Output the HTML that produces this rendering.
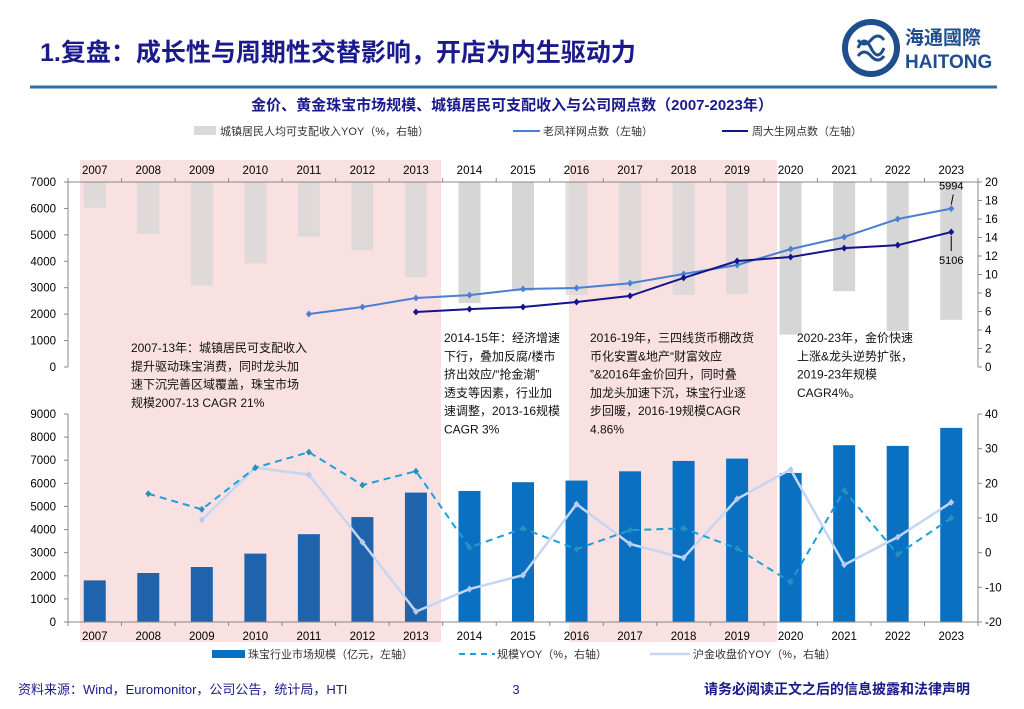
<!DOCTYPE html>
<html><head><meta charset="utf-8">
<style>
html,body{margin:0;padding:0;background:#fff;}
svg{display:block;font-family:"Liberation Sans","Noto Sans CJK SC",sans-serif;}
</style></head>
<body>
<svg id="s" width="1024" height="709" viewBox="0 0 1024 709" xmlns="http://www.w3.org/2000/svg">
<text x="40" y="61" font-size="25" font-weight="bold" fill="#1a1a8c">1.复盘：成长性与周期性交替影响，开店为内生驱动力</text>
<g>
<circle cx="871" cy="48" r="26" fill="none" stroke="#1f4e8c" stroke-width="6"/>
<path d="M858 48 q6 -14 13 0 t13 0 M858 40 q6 8 13 0 t13 0 M858 56 q6 -8 13 0 t13 0" fill="none" stroke="#1f4e8c" stroke-width="3"/>
<text x="905" y="44" font-size="19" font-weight="bold" fill="#1f4e8c">海通國際</text>
<text x="905" y="68" font-size="19" font-weight="bold" fill="#1f4e8c">HAITONG</text>
</g>
<line x1="30" y1="87" x2="997" y2="87" stroke="#2e6fa8" stroke-width="3"/>
<text x="512" y="110" font-size="15" font-weight="bold" fill="#1a1a8c" text-anchor="middle">金价、黄金珠宝市场规模、城镇居民可支配收入与公司网点数（2007-2023年）</text>
<g id="g"></g>
<text x="18" y="694" font-size="13" fill="#1a1a8c">资料来源：Wind，Euromonitor，公司公告，统计局，HTI</text>
<text x="516" y="694" font-size="13" fill="#1a1a8c" text-anchor="middle">3</text>
<text x="970" y="694" font-size="14" font-weight="bold" fill="#1a1a8c" text-anchor="end">请务必阅读正文之后的信息披露和法律声明</text>
</svg>
<script>
const years=["2007","2008","2009","2010","2011","2012","2013","2014","2015","2016","2017","2018","2019","2020","2021","2022","2023"];
const incomeYoy=[17.2,14.4,8.8,11.2,14.1,12.6,9.7,6.9,8.2,7.8,8.3,7.8,7.9,3.5,8.2,3.9,5.1];
const laofengxiang=[null,null,null,null,2005,2270,2610,2720,2950,2990,3170,3520,3860,4460,4920,5600,5994];
const zhoudasheng=[null,null,null,null,null,null,2080,2190,2270,2460,2690,3370,4010,4160,4500,4610,5106];
const marketSize=[1800,2120,2380,2960,3800,4540,5600,5670,6050,6120,6520,6970,7070,6450,7650,7620,8400];
const sizeYoy=[null,17,12.5,24.5,29,19.5,23.5,1.5,7,1,6.5,7,1.2,-8.5,18,-0.5,10];
const goldYoy=[null,null,9.5,24.5,22.5,3,-17,-10.5,-6.5,14,2.5,-1.5,15.5,24,-3.5,4.5,14.5];
const topLeftTicks=[0,1000,2000,3000,4000,5000,6000,7000];
const topRightTicks=[0,2,4,6,8,10,12,14,16,18,20];
const botLeftTicks=[0,1000,2000,3000,4000,5000,6000,7000,8000,9000];
const botRightTicks=[-20,-10,0,10,20,30,40];

const NS="http://www.w3.org/2000/svg";
const G=document.getElementById('g');
function mk(t,a,p){const e=document.createElementNS(NS,t);for(const k in a)e.setAttribute(k,a[k]);(p||G).appendChild(e);return e;}
const X0=68,X1=978,n=years.length,bw=(X1-X0)/n;
const xc=i=>X0+bw*(i+0.5);
const tT=182,tB=367,bT=414,bB=622;
const yTL=v=>tB-(v/7000)*(tB-tT);
const yTR=v=>tB-(v/20)*(tB-tT);
const yBL=v=>bB-(v/9000)*(bB-bT);
const yBR=v=>bB-((v+20)/60)*(bB-bT);

// pink shaded periods
let r=mk('rect',{x:80,y:160,width:361,height:482,fill:'#f9e1e1'});


r=mk('rect',{x:569,y:160,width:208,height:482,fill:'#f9e1e1'});



// top legend
let e;
e=mk('rect',{x:194,y:126,width:22,height:9,fill:'#d9d9d9'});


e=mk('text',{x:220,y:135,'font-size':11,fill:'#333'});e.textContent='城镇居民人均可支配收入YOY（%，右轴）';


e=mk('line',{x1:513,y1:131,x2:540,y2:131,stroke:'#4a7fd4','stroke-width':2});


e=mk('text',{x:543,y:135,'font-size':11,fill:'#333'});e.textContent='老凤祥网点数（左轴）';


e=mk('line',{x1:722,y1:131,x2:748,y2:131,stroke:'#14148a','stroke-width':2});


e=mk('text',{x:752,y:135,'font-size':11,fill:'#333'});e.textContent='周大生网点数（左轴）';



// top chart gray bars (from top down to value)
incomeYoy.forEach((v,i)=>{
  const b=mk('rect',{x:xc(i)-11,y:tT,width:22,height:yTR(v)-tT,fill:'#d6d6d6','fill-opacity':(i<=6||(i>=9&&i<=12))?0.75:1});
  
  
});
// top axes
mk('line',{x1:X0,y1:tT,x2:X1,y2:tT,stroke:'#888'});
mk('line',{x1:X0,y1:tT,x2:X0,y2:tB,stroke:'#888'});
mk('line',{x1:X1,y1:tT,x2:X1,y2:tB,stroke:'#888'});
for(let i=0;i<=n;i++)mk('line',{x1:X0+bw*i,y1:tT,x2:X0+bw*i,y2:tT-4,stroke:'#888'});
years.forEach((y,i)=>{const t=mk('text',{x:xc(i),y:174,'font-size':11.5,'text-anchor':'middle',fill:'#000'});t.textContent=y;

});
topLeftTicks.forEach(v=>{mk('line',{x1:X0-4,y1:yTL(v),x2:X0,y2:yTL(v),stroke:'#888'});const t=mk('text',{x:56,y:yTL(v)+4,'font-size':11.5,'text-anchor':'end'});t.textContent=v;

});
topRightTicks.forEach(v=>{mk('line',{x1:X1,y1:yTR(v),x2:X1+4,y2:yTR(v),stroke:'#888'});const t=mk('text',{x:985,y:yTR(v)+4,'font-size':11.5});t.textContent=v;

});

function line(arr,yf,attrs,name,marker){
  const pts=[];arr.forEach((v,i)=>{if(v!==null)pts.push([xc(i),yf(v)]);});
  const p=mk('polyline',Object.assign({points:pts.map(p=>p.join(',')).join(' '),fill:'none'},attrs));
  
  
  pts.forEach(q=>{const c=mk('path',{d:`M${q[0]} ${q[1]-3.5}L${q[0]+3} ${q[1]}L${q[0]} ${q[1]+3.5}L${q[0]-3} ${q[1]}Z`,fill:marker});
  
  });
}
line(laofengxiang,yTL,{stroke:'#4a7fd4','stroke-width':2},'laofengxiang-line','#4a7fd4');
line(zhoudasheng,yTL,{stroke:'#14148a','stroke-width':2},'zhoudasheng-line','#14148a');
// end labels
const li=n-1;
mk('line',{x1:xc(li),y1:yTL(laofengxiang[li])-4,x2:xc(li)+2,y2:yTL(laofengxiang[li])-14,stroke:'#000'});
e=mk('text',{x:xc(li),y:yTL(laofengxiang[li])-19,'font-size':11,'text-anchor':'middle'});e.textContent=laofengxiang[li];


mk('line',{x1:xc(li),y1:yTL(zhoudasheng[li])+4,x2:xc(li),y2:yTL(zhoudasheng[li])+19,stroke:'#000'});
e=mk('text',{x:xc(li),y:yTL(zhoudasheng[li])+32,'font-size':11,'text-anchor':'middle'});e.textContent=zhoudasheng[li];



// bottom chart bars
marketSize.forEach((v,i)=>{
  const b=mk('rect',{x:xc(i)-11,y:yBL(v),width:22,height:bB-yBL(v),fill:i<=6?'#1f63ad':'#0a70c2'});
  
  
});
mk('line',{x1:X0,y1:bB,x2:X1,y2:bB,stroke:'#888'});
mk('line',{x1:X0,y1:bT,x2:X0,y2:bB,stroke:'#888'});
mk('line',{x1:X1,y1:bT,x2:X1,y2:bB,stroke:'#888'});
for(let i=0;i<=n;i++)mk('line',{x1:X0+bw*i,y1:bB,x2:X0+bw*i,y2:bB+4,stroke:'#888'});
years.forEach((y,i)=>{const t=mk('text',{x:xc(i),y:640,'font-size':11.5,'text-anchor':'middle'});t.textContent=y;

});
botLeftTicks.forEach(v=>{mk('line',{x1:X0-4,y1:yBL(v),x2:X0,y2:yBL(v),stroke:'#888'});const t=mk('text',{x:56,y:yBL(v)+4,'font-size':11.5,'text-anchor':'end'});t.textContent=v;

});
botRightTicks.forEach(v=>{mk('line',{x1:X1,y1:yBR(v),x2:X1+4,y2:yBR(v),stroke:'#888'});const t=mk('text',{x:985,y:yBR(v)+4,'font-size':11.5});t.textContent=v;

});
line(goldYoy,yBR,{stroke:'#c6d6f2','stroke-width':2.5},'gold-yoy-line','#b8cbee');
line(sizeYoy,yBR,{stroke:'#1aa0dc','stroke-width':2,'stroke-dasharray':'7,5'},'size-yoy-line','#2a8fb8');

// bottom legend
e=mk('rect',{x:212,y:650,width:33,height:8,fill:'#0a70c2'});


e=mk('text',{x:248,y:658,'font-size':11,fill:'#333'});e.textContent='珠宝行业市场规模（亿元，左轴）';


e=mk('line',{x1:459,y1:654,x2:495,y2:654,stroke:'#1aa0dc','stroke-width':2,'stroke-dasharray':'6,5'});


e=mk('text',{x:497,y:658,'font-size':11,fill:'#333'});e.textContent='规模YOY（%，右轴）';


e=mk('line',{x1:650,y1:654,x2:690,y2:654,stroke:'#c6d6f2','stroke-width':2.5});


e=mk('text',{x:693,y:658,'font-size':11,fill:'#333'});e.textContent='沪金收盘价YOY（%，右轴）';



// annotations
function note(x,y,lines,name){
  const t=mk('text',{x:x,y:y,'font-size':12,fill:'#111'});
  
  
  lines.forEach((s,i)=>{const sp=mk('tspan',{x:x,y:y+i*18.3},t);sp.textContent=s;});
}
note(131,352,['2007-13年：城镇居民可支配收入','提升驱动珠宝消费，同时龙头加','速下沉完善区域覆盖，珠宝市场','规模2007-13 CAGR 21%'],'annotation-2007-2013');
note(444,342,['2014-15年：经济增速','下行，叠加反腐/楼市','挤出效应/“抢金潮”','透支等因素，行业加','速调整，2013-16规模','CAGR 3%'],'annotation-2014-2015');
note(590,342,['2016-19年，三四线货币棚改货','币化安置&地产“财富效应','”&2016年金价回升，同时叠','加龙头加速下沉，珠宝行业逐','步回暖，2016-19规模CAGR','4.86%'],'annotation-2016-2019');
note(797,342,['2020-23年，金价快速','上涨&龙头逆势扩张，','2019-23年规模','CAGR4%。'],'annotation-2020-2023');
</script>
</body></html>
